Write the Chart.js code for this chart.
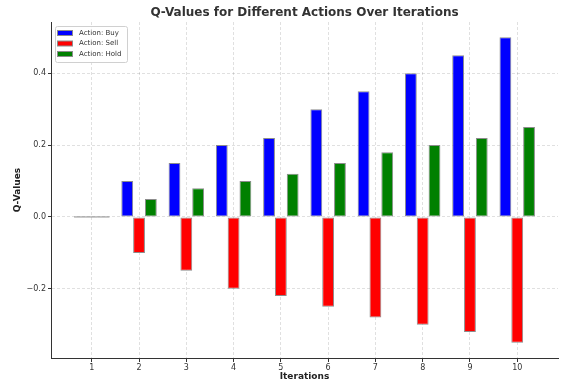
<!DOCTYPE html>
<html>
<head>
<meta charset="utf-8">
<script src="https://cdn.jsdelivr.net/npm/chart.js@4.4.1/dist/chart.umd.min.js"></script>
<style>
  html, body { margin: 0; padding: 0; background: #fff; }
  #wrap { width: 568px; height: 386px; position: relative; }
</style>
</head>
<body>
<div id="wrap"><canvas id="c" width="568" height="386"></canvas></div>
<script>
const iterations = [1, 2, 3, 4, 5, 6, 7, 8, 9, 10];
const buyValues  = [0, 0.10, 0.15, 0.20, 0.22, 0.30, 0.35, 0.40, 0.45, 0.50];
const sellValues = [0, -0.10, -0.15, -0.20, -0.22, -0.25, -0.28, -0.30, -0.32, -0.35];
const holdValues = [0, 0.05, 0.08, 0.10, 0.12, 0.15, 0.18, 0.20, 0.22, 0.25];
const seriesLabels = ['Action: Buy', 'Action: Sell', 'Action: Hold'];
const seriesColors = ['#0000ff', '#ff0000', '#008000'];
const yTicks = [-0.2, 0.0, 0.2, 0.4];
const xRange = [0.1375, 10.8625];
const yRange = [-0.3925, 0.5425];

const FONT = "'DejaVu Sans', 'Liberation Sans', sans-serif";
const EDGE = '#8c8c8c';

function makeDataset(label, values, color) {
  return {
    label: label,
    data: iterations.map((x, i) => ({ x: x, y: values[i] })),
    backgroundColor: ctx => (ctx.raw && ctx.raw.y === 0) ? EDGE : color,
    borderColor: EDGE,
    borderWidth: ctx => (ctx.raw && ctx.raw.y === 0) ? 0 : 1,
    borderSkipped: false,
    minBarLength: 1,
    legendColor: color
  };
}

const insideLegend = {
  id: 'insideLegend',
  afterDraw(chart) {
    const ctx = chart.ctx;
    const a = chart.chartArea;
    const x0 = a.left + 4, y0 = a.top + 4;
    const w = 72, h = 36;
    ctx.save();
    ctx.fillStyle = 'rgba(255,255,255,0.85)';
    ctx.strokeStyle = '#d0d0d0';
    ctx.lineWidth = 1;
    ctx.beginPath();
    if (ctx.roundRect) ctx.roundRect(x0 + 0.5, y0 + 0.5, w, h, 2); else ctx.rect(x0 + 0.5, y0 + 0.5, w, h);
    ctx.fill();
    ctx.stroke();
    ctx.font = '7px ' + FONT;
    ctx.textBaseline = 'middle';
    chart.data.datasets.forEach((ds, i) => {
      const cy = y0 + 7 + i * 10.5;
      ctx.fillStyle = ds.legendColor;
      ctx.fillRect(x0 + 2, cy - 2.5, 16, 5);
      ctx.strokeStyle = EDGE;
      ctx.strokeRect(x0 + 2.5, cy - 2.5, 15, 5);
      ctx.fillStyle = '#333';
      ctx.fillText(ds.label, x0 + 24, cy);
    });
    ctx.restore();
  }
};

new Chart(document.getElementById('c'), {
  type: 'bar',
  data: {
    datasets: [
      makeDataset(seriesLabels[0], buyValues, seriesColors[0]),
      makeDataset(seriesLabels[1], sellValues, seriesColors[1]),
      makeDataset(seriesLabels[2], holdValues, seriesColors[2])
    ]
  },
  options: {
    responsive: false,
    animation: false,
    devicePixelRatio: 1,
    layout: { padding: { left: 0, right: 10, top: 0, bottom: 0 } },
    datasets: { bar: { categoryPercentage: 0.75, barPercentage: 1.0, grouped: true } },
    plugins: {
      legend: { display: false },
      tooltip: { enabled: false },
      title: {
        display: true,
        text: 'Q-Values for Different Actions Over Iterations',
        fullSize: false,
        color: '#333',
        font: { family: FONT, size: 12, weight: 'bold', lineHeight: 1.2 },
        padding: { top: 6, bottom: 1.6 }
      }
    },
    scales: {
      x: {
        type: 'linear',
        min: xRange[0],
        max: xRange[1],
        offset: false,
        afterFit: s => { s.height = 28; },
        afterBuildTicks: s => { s.ticks = iterations.map(v => ({ value: v })); },
        ticks: {
          color: '#333',
          font: { family: FONT, size: 8 },
          padding: 1,
          maxRotation: 0,
          autoSkip: false,
          callback: v => String(v)
        },
        grid: {
          offset: false,
          color: 'rgba(0,0,0,0.12)',
          tickColor: '#333',
          tickLength: 4,
          tickBorderDash: [],
          drawTicks: true
        },
        border: { display: true, color: '#333', width: 1, dash: [3, 2] },
        title: {
          display: true,
          text: 'Iterations',
          color: '#222',
          font: { family: FONT, size: 9, weight: 'bold', lineHeight: 1.2 },
          padding: { top: 3.6, bottom: 3.6 }
        }
      },
      y: {
        type: 'linear',
        min: yRange[0],
        max: yRange[1],
        afterFit: s => { s.width = 51; },
        afterBuildTicks: s => { s.ticks = yTicks.map(v => ({ value: v })); },
        ticks: {
          color: '#333',
          font: { family: FONT, size: 8 },
          padding: 2,
          callback: v => v.toFixed(1).replace('-', '\u2212')
        },
        grid: {
          color: 'rgba(0,0,0,0.12)',
          tickColor: '#333',
          tickLength: 3,
          tickBorderDash: []
        },
        border: { display: true, color: '#333', width: 1, dash: [3, 2] },
        title: {
          display: true,
          text: 'Q-Values',
          color: '#222',
          font: { family: FONT, size: 9, weight: 'bold', lineHeight: 1.2 },
          padding: { top: 12.6, bottom: 12.6 }
        }
      }
    }
  },
  plugins: [insideLegend]
});
</script>
</body>
</html>
